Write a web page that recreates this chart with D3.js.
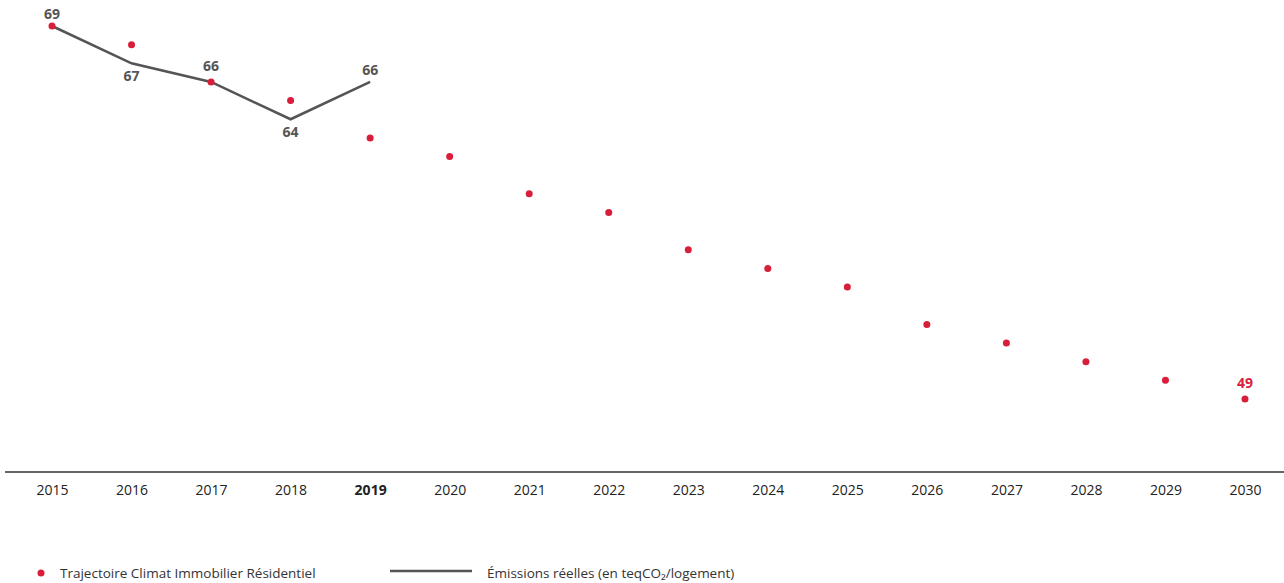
<!DOCTYPE html>
<html>
<head>
<meta charset="utf-8">
<script src="https://cdn.jsdelivr.net/npm/d3@7"></script>
<style>
  body { margin: 0; background: #fff; }
  svg text { font-family: "Open Sans", "Noto Sans", sans-serif; }
</style>
</head>
<body>
<svg id="chart"></svg>
<script>
// données
const years = [2015, 2016, 2017, 2018, 2019, 2020, 2021, 2022, 2023, 2024, 2025, 2026, 2027, 2028, 2029, 2030];
const trajectoire = [69, 68, 66, 65, 63, 62, 60, 59, 57, 56, 55, 53, 52, 51, 50, 49];
const emissionYears = [2015, 2016, 2017, 2018, 2019];
const emissions = [69, 67, 66, 64, 66];
const emissionLabelSide = ['above', 'below', 'above', 'below', 'above'];
const legendLabels = ['Trajectoire Climat Immobilier Résidentiel', 'Émissions réelles (en teqCO₂/logement)'];

const width = 1284, height = 583;
const red = '#d81e3a', grey = '#555555';

const svg = d3.select('#chart').attr('width', width).attr('height', height);

const x = d3.scalePoint().domain(years).range([52, 1245]);
const y = d3.scaleLinear().domain([49, 69]).range([399, 26]);

// axe X
const axis = svg.append('g')
  .attr('transform', 'translate(0,472)')
  .call(d3.axisBottom(x).tickSize(0).tickPadding(13));
axis.select('.domain').remove();
axis.append('line')
  .attr('x1', 5).attr('x2', 1284)
  .attr('stroke', '#333').attr('stroke-width', 1.5);
axis.selectAll('.tick text')
  .attr('fill', '#222')
  .style('font-size', '14px')
  .style('font-weight', d => d === 2019 ? 'bold' : 'normal');

// ligne des émissions réelles
const line = d3.line()
  .x((d, i) => x(emissionYears[i]))
  .y(d => y(d));
svg.append('path')
  .datum(emissions)
  .attr('d', line)
  .attr('fill', 'none')
  .attr('stroke', grey)
  .attr('stroke-width', 2.5);

// points de la trajectoire
svg.selectAll('.traj')
  .data(trajectoire)
  .enter()
  .append('circle')
  .attr('class', 'traj')
  .attr('cx', (d, i) => x(years[i]))
  .attr('cy', d => y(d))
  .attr('r', 3.5)
  .attr('fill', red);

// étiquettes des émissions (décalées au-dessus si un point rouge coïncide)
svg.selectAll('.em-label')
  .data(emissions)
  .enter()
  .append('text')
  .attr('class', 'em-label')
  .attr('x', (d, i) => x(emissionYears[i]))
  .attr('y', (d, i) => {
    if (emissionLabelSide[i] === 'below') return y(d) + 18;
    const hit = i > 0 && trajectoire[years.indexOf(emissionYears[i])] === d;
    return y(d) - (hit ? 11 : 7);
  })
  .attr('text-anchor', 'middle')
  .attr('fill', grey)
  .style('font-size', '14px')
  .style('font-weight', 'bold')
  .text(d => d);

// étiquette finale
const lastI = years.length - 1;
svg.append('text')
  .attr('x', x(years[lastI]))
  .attr('y', y(trajectoire[lastI]) - 11)
  .attr('text-anchor', 'middle')
  .attr('fill', red)
  .style('font-size', '14px')
  .style('font-weight', 'bold')
  .text(trajectoire[lastI]);

// légende
const legend = svg.append('g').attr('transform', 'translate(0,573)');
legend.append('circle').attr('cx', 41).attr('cy', 0).attr('r', 3.5).attr('fill', red);
legend.append('text').attr('x', 60).attr('y', 5)
  .attr('fill', '#333').style('font-size', '13.5px')
  .text(legendLabels[0]);
legend.append('line').attr('x1', 390).attr('x2', 472).attr('y1', -2).attr('y2', -2)
  .attr('stroke', grey).attr('stroke-width', 2.5);
legend.append('text').attr('x', 487).attr('y', 5)
  .attr('fill', '#333').style('font-size', '13.5px')
  .text(legendLabels[1]);
</script>
</body>
</html>
